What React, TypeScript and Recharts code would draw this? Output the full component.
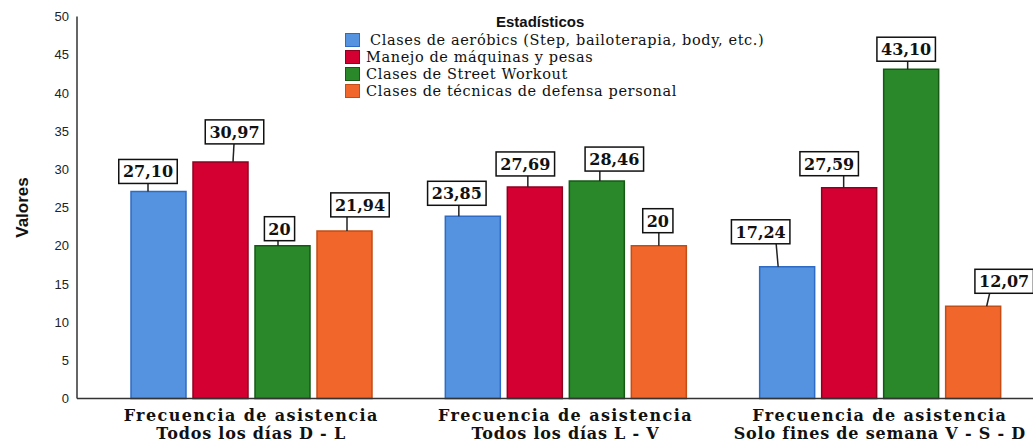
import React from 'react';
import { BarChart, Bar, XAxis, YAxis, Legend, LabelList } from 'recharts';

// Category labels (two lines each)
const categoryLine1 = ['Frecuencia de asistencia', 'Frecuencia de asistencia', 'Frecuencia de asistencia'];
const categoryLine2 = ['Todos los días D - L', 'Todos los días L - V', 'Solo fines de semana V - S - D'];

// Series names
const seriesNames = [
  'Clases de aeróbics (Step, bailoterapia, body, etc.)',
  'Manejo de máquinas y pesas',
  'Clases de Street Workout',
  'Clases de técnicas de defensa personal',
];

// Series values (percent per attendance frequency)
const aerobicos = [27.1, 23.85, 17.24];
const maquinas = [30.97, 27.69, 27.59];
const streetWorkout = [20, 28.46, 43.1];
const defensaPersonal = [21.94, 20, 12.07];

const yTicks = [0, 5, 10, 15, 20, 25, 30, 35, 40, 45, 50];

const seriesKeys = ['aerobicos', 'maquinas', 'street', 'defensa'];
const seriesFill = ['#5593e0', '#d50032', '#2a882a', '#f1672b'];
const seriesStroke = ['#2f6bc4', '#8e0020', '#155915', '#c44c15'];

// Callout placement per series / category: box offset from bar centre,
// gap between box and bar top, and connector x at the bar and at the box.
const labelPlacement = [
  [
    { dx: -10.5, gap: 8, lb: -10.5, lt: -10.5 },
    { dx: -16, gap: 11, lb: -14, lt: -14 },
    { dx: -26.5, gap: 23, lb: -9, lt: -11 },
  ],
  [
    { dx: 14, gap: 18, lb: 12.5, lt: 13.5 },
    { dx: -9.5, gap: 11, lb: -7, lt: -7 },
    { dx: -20, gap: 12, lb: -5.5, lt: -5.5 },
  ],
  [
    { dx: -3, gap: 5, lb: -4.5, lt: -4.5 },
    { dx: 17.5, gap: 10, lb: 3, lt: 3 },
    { dx: -5, gap: 8, lb: -3.5, lt: -3.5 },
  ],
  [
    { dx: 15.5, gap: 14, lb: 2.5, lt: 2.5 },
    { dx: -1, gap: 13, lb: 0, lt: 0 },
    { dx: 31, gap: 13, lb: 13.5, lt: 16.5 },
  ],
];

const data = categoryLine1.map((l1, i) => ({
  name: `${l1} ${categoryLine2[i]}`,
  aerobicos: aerobicos[i],
  maquinas: maquinas[i],
  street: streetWorkout[i],
  defensa: defensaPersonal[i],
}));

const formatValue = (v: number) =>
  Number.isInteger(v) ? String(v) : v.toFixed(2).replace('.', ',');

const LABEL_FONT = '"DejaVu Serif", serif';
const SANS = '"Liberation Sans", Arial, sans-serif';

const makeCallout = (seriesIndex: number) => (props: any) => {
  const { x, y, width, value, index } = props;
  const place = labelPlacement[seriesIndex][index];
  const text = formatValue(Number(value));
  const digits = text.replace(/[^0-9]/g, '').length;
  const commas = text.length - digits;
  const textW = digits * 11.1 + commas * 6.1;
  const boxW = textW + 8;
  const boxH = 24;
  const cx = Number(x) + Number(width) / 2;
  const top = Number(y);
  const boxBottom = top - place.gap;
  const boxTop = boxBottom - boxH;
  const boxCx = cx + place.dx;
  return (
    <g>
      <line
        x1={cx + place.lb}
        y1={top}
        x2={cx + place.lt}
        y2={boxBottom}
        stroke="#222"
        strokeWidth={1.5}
      />
      <rect
        x={boxCx - boxW / 2}
        y={boxTop}
        width={boxW}
        height={boxH}
        fill="#fff"
        stroke="#111"
        strokeWidth={1.5}
      />
      <text
        x={boxCx}
        y={boxTop + 18}
        textAnchor="middle"
        fontFamily={LABEL_FONT}
        fontWeight="bold"
        fontSize={16}
        fill="#111"
      >
        {text}
      </text>
    </g>
  );
};

const CategoryTick = (props: any) => {
  const { x, y, index } = props;
  const common = {
    textAnchor: 'middle' as const,
    fontFamily: LABEL_FONT,
    fontWeight: 'bold',
    fontSize: 16,
    fill: '#111',
  };
  return (
    <g>
      <text x={x} y={y + 14.5} letterSpacing={1.4} {...common}>
        {categoryLine1[index]}
      </text>
      <text x={x} y={y + 32.5} letterSpacing={0.8} {...common}>
        {categoryLine2[index]}
      </text>
    </g>
  );
};

const LegendBox = () => (
  <div style={{ position: 'relative', width: 460, height: 90 }}>
    <div
      style={{
        position: 'absolute',
        left: 161,
        top: -1,
        fontFamily: SANS,
        fontWeight: 'bold',
        fontSize: 15,
        lineHeight: '16px',
        color: '#111',
      }}
    >
      Estadísticos
    </div>
    {seriesNames.map((name, i) => (
      <div
        key={name}
        style={{
          position: 'absolute',
          left: 10,
          top: 18 + i * 17,
          height: 14,
          display: 'flex',
          alignItems: 'center',
          whiteSpace: 'nowrap',
        }}
      >
        <div
          style={{
            width: 13,
            height: 12,
            flex: 'none',
            background: seriesFill[i],
            border: `1px solid ${seriesStroke[i]}`,
          }}
        />
        <span
          style={{
            marginLeft: i === 0 ? 10 : 6,
            fontFamily: LABEL_FONT,
            fontSize: 14.5,
            letterSpacing: 0.6,
            lineHeight: '14px',
            color: '#111',
          }}
        >
          {name}
        </span>
      </div>
    ))}
  </div>
);

export default function App() {
  return (
    <div
      style={{
        position: 'absolute',
        left: 0,
        top: 0,
        width: 1033,
        height: 443,
        overflow: 'hidden',
        background: '#fff',
      }}
    >
      <BarChart
        width={1040}
        height={443}
        data={data}
        margin={{ top: 16.5, right: 3, left: 0, bottom: 0 }}
        barCategoryGap={37}
        barGap={7}
      >
        <XAxis
          dataKey="name"
          height={44.5}
          padding={{ left: 17, right: 0 }}
          tickLine={false}
          axisLine={{ stroke: '#333', strokeWidth: 1.5 }}
          tick={<CategoryTick />}
          interval={0}
        />
        <YAxis
          width={77}
          domain={[0, 50]}
          ticks={yTicks}
          tickLine={false}
          axisLine={{ stroke: '#333', strokeWidth: 1.5 }}
          tick={{ fontFamily: SANS, fontSize: 13, fill: '#222' }}
          label={(p: any) => {
            const vb = p.viewBox || {};
            const cy = (vb.y ?? 16.5) + (vb.height ?? 382) / 2;
            return (
              <text
                x={28}
                y={cy}
                transform={`rotate(-90 28 ${cy})`}
                textAnchor="middle"
                fontFamily={SANS}
                fontWeight="bold"
                fontSize={17}
                fill="#111"
              >
                Valores
              </text>
            );
          }}
        />
        <Legend
          layout="horizontal"
          verticalAlign="middle"
          align="center"
          wrapperStyle={{ position: 'absolute', top: 15, left: 335, width: 460, height: 90 }}
          content={<LegendBox />}
        />
        {seriesKeys.map((key, i) => (
          <Bar
            key={key}
            dataKey={key}
            name={seriesNames[i]}
            fill={seriesFill[i]}
            stroke={seriesStroke[i]}
            strokeWidth={1.5}
            isAnimationActive={false}
          >
            <LabelList dataKey={key} content={makeCallout(i)} />
          </Bar>
        ))}
      </BarChart>
    </div>
  );
}
